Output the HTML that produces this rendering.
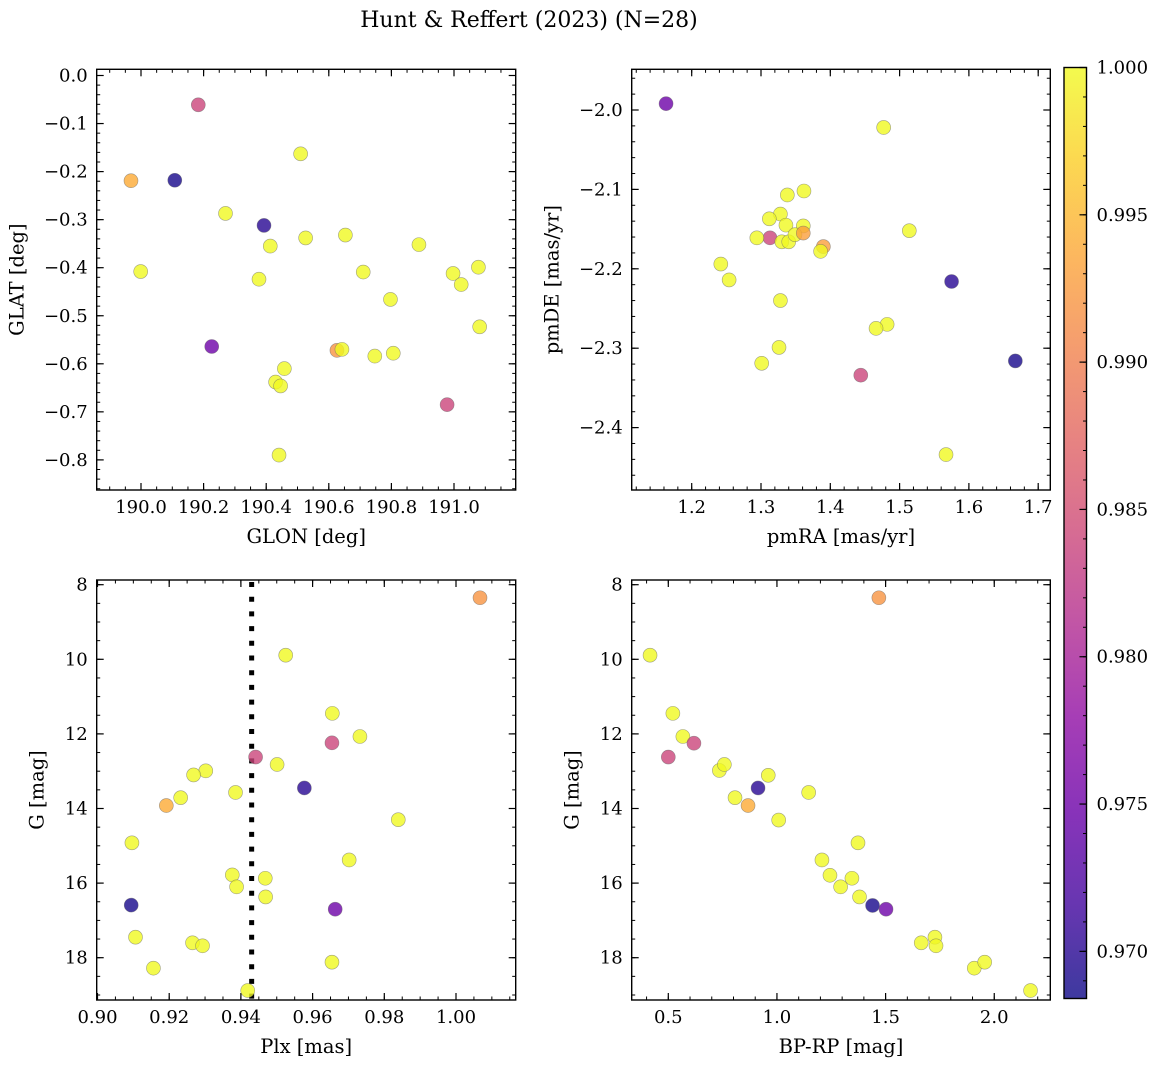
<!DOCTYPE html>
<html><head><meta charset="utf-8"><style>
html,body{margin:0;padding:0;background:#fff;}
svg{display:block;font-family:"DejaVu Serif","Liberation Serif",serif;}
</style></head><body>
<svg id="fig" width="1161" height="1067" viewBox="0 0 1161 1067" xmlns="http://www.w3.org/2000/svg">
<defs><linearGradient id="cbgrad" x1="0" y1="1" x2="0" y2="0">
<stop offset="0" stop-color="#0d0887"/><stop offset="0.1" stop-color="#41049d"/><stop offset="0.2" stop-color="#6a00a8"/><stop offset="0.3" stop-color="#8f0da4"/><stop offset="0.4" stop-color="#b12a90"/><stop offset="0.5" stop-color="#cc4778"/><stop offset="0.6" stop-color="#e16462"/><stop offset="0.7" stop-color="#f2844b"/><stop offset="0.8" stop-color="#fca636"/><stop offset="0.9" stop-color="#fcce25"/><stop offset="1" stop-color="#f0f921"/>
</linearGradient></defs>
<text x="529" y="27" text-anchor="middle" font-size="22">Hunt &amp; Reffert (2023) (N=28)</text>
</svg>
<script>
// Panel 1: GLON vs GLAT
const p1Glon=[190.183,189.968,190.108,190.510,190.270,190.393,190.413,190.526,190.653,189.999,190.377,190.710,190.888,190.997,191.023,191.078,190.797,191.082,190.226,190.626,190.642,190.747,190.806,190.458,190.430,190.446,190.978,190.441];
const p1Glat=[-0.061,-0.219,-0.218,-0.163,-0.287,-0.312,-0.355,-0.338,-0.332,-0.408,-0.424,-0.409,-0.352,-0.412,-0.435,-0.399,-0.466,-0.523,-0.564,-0.572,-0.570,-0.584,-0.578,-0.610,-0.638,-0.646,-0.685,-0.790];
const p1Prob=[0.984,0.994,0.969,1,1,0.970,1,1,1,1,1,1,1,1,1,1,1,1,0.975,0.992,1,1,1,1,1,1,0.984,1];
// Panel 2: pmRA vs pmDE
const p2Pmra=[1.163,1.477,1.362,1.338,1.328,1.312,1.336,1.361,1.313,1.294,1.330,1.340,1.349,1.361,1.514,1.390,1.386,1.242,1.254,1.575,1.328,1.482,1.466,1.326,1.301,1.667,1.444,1.567];
const p2Pmde=[-1.992,-2.022,-2.102,-2.107,-2.131,-2.137,-2.145,-2.146,-2.161,-2.161,-2.166,-2.166,-2.157,-2.155,-2.152,-2.172,-2.178,-2.194,-2.214,-2.216,-2.240,-2.270,-2.275,-2.299,-2.319,-2.316,-2.334,-2.434];
const p2Prob=[0.975,1,1,1,1,1,1,1,0.984,1,1,1,1,0.993,1,0.993,1,1,1,0.970,1,1,1,1,1,0.969,0.984,1];
// Panel 3: Plx vs G
const p3Plx=[1.0067,0.9525,0.9655,0.9654,0.9732,0.9441,0.9501,0.9302,0.9268,0.9577,0.9385,0.9232,0.9192,0.9839,0.9096,0.9702,0.9376,0.9468,0.9388,0.9469,0.9094,0.9663,0.9106,0.9265,0.9293,0.9156,0.9654,0.9419];
const p3G=[8.35,9.89,11.45,12.24,12.07,12.62,12.82,12.99,13.10,13.45,13.57,13.71,13.92,14.30,14.92,15.38,15.78,15.87,16.10,16.37,16.59,16.70,17.45,17.60,17.68,18.28,18.12,18.88];
const p3Prob=[0.992,1,1,0.984,1,0.984,1,1,1,0.970,1,1,0.994,1,1,1,1,1,1,1,0.969,0.975,1,1,1,1,1,1];
const plxLine=0.9430;
// Panel 4: BP-RP vs G
const p4Bprp=[0.416,0.521,0.567,0.618,0.500,0.735,0.758,0.960,0.913,0.807,0.867,1.008,1.146,1.373,1.207,1.244,1.345,1.293,1.380,1.440,1.502,1.469,1.664,1.727,1.732,1.908,1.956,2.167];
const p4G=[9.89,11.45,12.07,12.25,12.62,12.98,12.82,13.11,13.45,13.71,13.92,14.31,13.57,14.92,15.38,15.79,15.87,16.10,16.37,16.60,16.70,8.35,17.60,17.45,17.68,18.28,18.12,18.88];
const p4Prob=[1,1,1,0.984,0.984,1,1,1,0.970,1,0.994,1,1,1,1,1,1,1,1,0.969,0.975,0.992,1,1,1,1,1,1];
// Ticks
const p1XTicks=[190.0,190.2,190.4,190.6,190.8,191.0];
const p1YTicks=[0.0,-0.1,-0.2,-0.3,-0.4,-0.5,-0.6,-0.7,-0.8];
const p2XTicks=[1.2,1.3,1.4,1.5,1.6,1.7];
const p2YTicks=[-2.0,-2.1,-2.2,-2.3,-2.4];
const p3XTicks=[0.90,0.92,0.94,0.96,0.98,1.00];
const gTicks=[8,10,12,14,16,18];
const p4XTicks=[0.5,1.0,1.5,2.0];
const cbTicks=[0.970,0.975,0.980,0.985,0.990,0.995,1.000];
const cbMin=0.9684, cbMax=1.0;

const NS="http://www.w3.org/2000/svg";
const svg=document.getElementById('fig');
function mk(tag,attrs,parent){const e=document.createElementNS(NS,tag);for(const k in attrs)e.setAttribute(k,attrs[k]);(parent||svg).appendChild(e);return e;}
const stops=[[0,[13,8,135]],[0.1,[65,4,157]],[0.2,[106,0,168]],[0.3,[143,13,164]],[0.4,[177,42,144]],[0.5,[204,71,120]],[0.6,[225,100,98]],[0.7,[242,132,75]],[0.8,[252,166,54]],[0.9,[252,206,37]],[1,[240,249,33]]];
function plasma(t){t=Math.max(0,Math.min(1,t));for(let i=1;i<stops.length;i++){if(t<=stops[i][0]){const a=stops[i-1],b=stops[i];const f=(t-a[0])/(b[0]-a[0]);const c=a[1].map((v,j)=>Math.round(v+(b[1][j]-v)*f));return `rgb(${c[0]},${c[1]},${c[2]})`;}}return 'rgb(240,249,33)';}
function neg(v,d){return (v<0?'\u2212':'')+Math.abs(v).toFixed(d);}

function panel(o){
  const g=mk('g',{});
  
  
  const X=v=>o.x0+(v-o.xa)*o.xs, Y=v=>o.y0+(v-o.ya)*o.ys;
  const xmin=o.xa+(o.L-o.x0)/o.xs, xmax=o.xa+(o.R-o.x0)/o.xs;
  for(let v=Math.ceil(Math.min(xmin,xmax)/o.xm)*o.xm; v<=Math.max(xmin,xmax); v+=o.xm){const px=X(v);
    mk('line',{x1:px,x2:px,y1:o.T,y2:o.T+3.5,stroke:'#000','stroke-width':1},g);mk('line',{x1:px,x2:px,y1:o.B,y2:o.B-3.5,stroke:'#000','stroke-width':1},g);}
  const y1v=o.ya+(o.T-o.y0)/o.ys, y2v=o.ya+(o.B-o.y0)/o.ys;
  for(let v=Math.ceil(Math.min(y1v,y2v)/o.ym)*o.ym; v<=Math.max(y1v,y2v); v+=o.ym){const py=Y(v);
    mk('line',{x1:o.L,x2:o.L+3.5,y1:py,y2:py,stroke:'#000','stroke-width':1},g);mk('line',{x1:o.R,x2:o.R-3.5,y1:py,y2:py,stroke:'#000','stroke-width':1},g);}
  o.xt.forEach(v=>{const px=X(v);
    mk('line',{x1:px,x2:px,y1:o.T,y2:o.T+7,stroke:'#000','stroke-width':1.2},g);mk('line',{x1:px,x2:px,y1:o.B,y2:o.B-7,stroke:'#000','stroke-width':1.2},g);
    const t=mk('text',{x:px,y:o.B+23,'text-anchor':'middle','font-size':18},g);t.textContent=neg(v,o.xd);
    
    });
  o.yt.forEach(v=>{const py=Y(v);
    mk('line',{x1:o.L,x2:o.L+7,y1:py,y2:py,stroke:'#000','stroke-width':1.2},g);mk('line',{x1:o.R,x2:o.R-7,y1:py,y2:py,stroke:'#000','stroke-width':1.2},g);
    const t=mk('text',{x:o.L-9,y:py+6,'text-anchor':'end','font-size':18},g);t.textContent=neg(v,o.yd);
    
    });
  if(o.vline!==undefined){const l=mk('line',{x1:X(o.vline),x2:X(o.vline),y1:o.T+2,y2:o.B,stroke:'#000','stroke-width':5,'stroke-dasharray':'5,9.7'},g);
    
    }
  o.xs_.forEach((xv,i)=>{const c=mk('circle',{cx:X(xv),cy:Y(o.ys_[i]),r:7,fill:plasma((o.p[i]-cbMin)/(cbMax-cbMin)),'fill-opacity':0.8,stroke:'#666','stroke-opacity':0.6,'stroke-width':0.6},g);
    
    });
  const box=mk('rect',{x:o.L,y:o.T,width:o.R-o.L,height:o.B-o.T,fill:'none',stroke:'#000','stroke-width':1.4},g);
  
  
  const xl=mk('text',{x:(o.L+o.R)/2,y:o.B+53,'text-anchor':'middle','font-size':19.5},g);xl.textContent=o.xl;
  
  
  const yx=o.L-o.ylo, yy=(o.T+o.B)/2;
  const yl=mk('text',{x:yx,y:yy,'text-anchor':'middle','font-size':19.5,transform:`rotate(-90 ${yx} ${yy})`},g);yl.textContent=o.yl;
  
  
}
panel({name:'glon-glat-panel',L:96.7,R:515.7,T:69.3,B:490,x0:141,xa:190,xs:313,y0:75.5,ya:0,ys:-480.5,xm:0.05,ym:0.02,xt:p1XTicks,yt:p1YTicks,xd:1,yd:1,xs_:p1Glon,ys_:p1Glat,p:p1Prob,xl:'GLON [deg]',yl:'GLAT [deg]',ylo:73});
panel({name:'pm-panel',L:631.7,R:1050.3,T:69.3,B:490,x0:691.7,xa:1.2,xs:693,y0:110,ya:-2.0,ys:-794,xm:0.02,ym:0.02,xt:p2XTicks,yt:p2YTicks,xd:1,yd:1,xs_:p2Pmra,ys_:p2Pmde,p:p2Prob,xl:'pmRA [mas/yr]',yl:'pmDE [mas/yr]',ylo:73});
panel({name:'plx-g-panel',L:96.7,R:515.7,T:580,B:1000,x0:97.5,xa:0.9,xs:3585,y0:584.7,ya:8,ys:37.3,xm:0.005,ym:0.5,xt:p3XTicks,yt:gTicks,xd:2,yd:0,xs_:p3Plx,ys_:p3G,p:p3Prob,xl:'Plx [mas]',yl:'G [mag]',ylo:53,vline:plxLine});
panel({name:'cmd-panel',L:631.7,R:1050.3,T:580,B:1000,x0:668.3,xa:0.5,xs:217.3,y0:584.7,ya:8,ys:37.3,xm:0.1,ym:0.5,xt:p4XTicks,yt:gTicks,xd:1,yd:0,xs_:p4Bprp,ys_:p4G,p:p4Prob,xl:'BP-RP [mag]',yl:'G [mag]',ylo:53});
// colorbar
const cb=mk('g',{});


const cbT=67.5,cbB=998.5,cbL=1064,cbR=1086.5;
mk('rect',{x:cbL,y:cbT,width:cbR-cbL,height:cbB-cbT,fill:'url(#cbgrad)','fill-opacity':0.8},cb);
const CY=v=>cbB-(v-cbMin)/(cbMax-cbMin)*(cbB-cbT);
for(let k=969;k<=1000;k++){const py=CY(k/1000);mk('line',{x1:cbR,x2:cbR-3.5,y1:py,y2:py,stroke:'#000','stroke-width':1},cb);}
cbTicks.forEach(v=>{const py=CY(v);mk('line',{x1:cbR,x2:cbR-7,y1:py,y2:py,stroke:'#000','stroke-width':1.2},cb);
  const t=mk('text',{x:cbR+10,y:py+6,'font-size':18},cb);t.textContent=v.toFixed(3);
  
  });
mk('rect',{x:cbL,y:cbT,width:cbR-cbL,height:cbB-cbT,fill:'none',stroke:'#000','stroke-width':1.4},cb);
</script>
</body></html>
